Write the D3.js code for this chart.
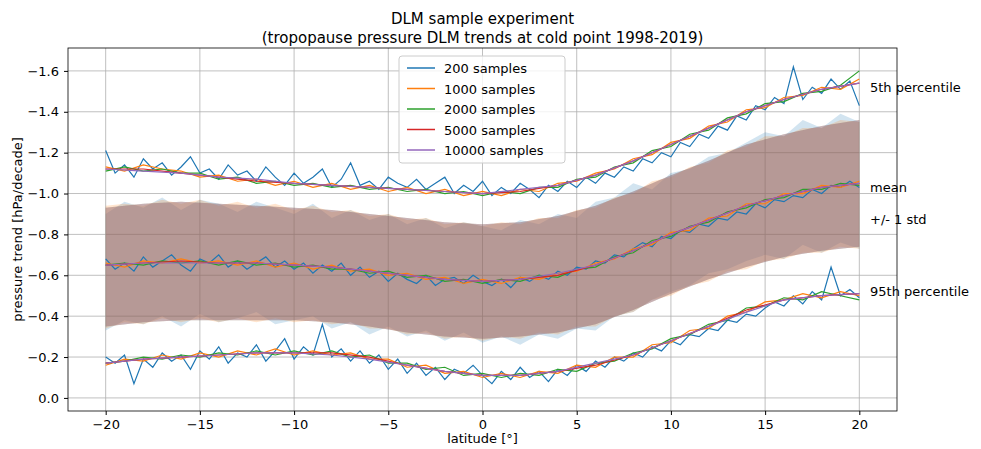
<!DOCTYPE html>
<html><head><meta charset="utf-8">
<script src="https://cdn.jsdelivr.net/npm/d3@7"></script>
<style>body{margin:0;background:#fff}text{font-family:"DejaVu Sans",sans-serif}</style>
</head><body><svg id="chart" width="981" height="449"></svg>
<script>
// values, latitude spread evenly from -20 to 20
var s200p5 = [-1.21,-1.10,-1.14,-1.08,-1.17,-1.12,-1.15,-1.09,-1.13,-1.18,-1.10,-1.12,-1.07,-1.14,-1.09,-1.11,-1.06,-1.13,-1.08,-1.04,-1.10,-1.05,-1.08,-1.12,-1.03,-1.07,-1.15,-1.04,-1.06,-1.02,-1.08,-1.05,-1.03,-1.07,-1.02,-1.05,-1.08,-1.00,-1.04,-1.01,-1.06,-0.99,-1.03,-1.00,-1.05,-1.02,-0.98,-1.04,-1.01,-1.06,-1.03,-1.08,-1.05,-1.10,-1.08,-1.13,-1.11,-1.17,-1.15,-1.20,-1.18,-1.25,-1.23,-1.29,-1.27,-1.33,-1.31,-1.38,-1.36,-1.43,-1.41,-1.47,-1.44,-1.62,-1.46,-1.52,-1.49,-1.56,-1.51,-1.55,-1.43];
var s200mean = [-0.68,-0.63,-0.66,-0.62,-0.69,-0.64,-0.67,-0.70,-0.65,-0.62,-0.68,-0.66,-0.70,-0.64,-0.67,-0.63,-0.66,-0.69,-0.64,-0.67,-0.63,-0.66,-0.61,-0.65,-0.62,-0.66,-0.60,-0.64,-0.59,-0.62,-0.57,-0.61,-0.58,-0.56,-0.60,-0.55,-0.58,-0.59,-0.56,-0.60,-0.57,-0.55,-0.58,-0.54,-0.59,-0.57,-0.60,-0.58,-0.62,-0.60,-0.64,-0.63,-0.67,-0.66,-0.70,-0.69,-0.73,-0.76,-0.74,-0.79,-0.78,-0.82,-0.81,-0.85,-0.84,-0.88,-0.87,-0.91,-0.90,-0.95,-0.93,-0.97,-0.96,-0.99,-0.98,-1.02,-1.00,-1.04,-1.03,-1.06,-1.03];
var s200p95 = [-0.20,-0.17,-0.21,-0.07,-0.19,-0.15,-0.22,-0.18,-0.21,-0.14,-0.23,-0.19,-0.25,-0.17,-0.22,-0.20,-0.26,-0.18,-0.23,-0.29,-0.19,-0.25,-0.21,-0.36,-0.20,-0.24,-0.18,-0.23,-0.17,-0.21,-0.14,-0.19,-0.12,-0.17,-0.11,-0.15,-0.09,-0.14,-0.12,-0.16,-0.11,-0.07,-0.13,-0.09,-0.15,-0.10,-0.13,-0.08,-0.14,-0.11,-0.16,-0.13,-0.18,-0.15,-0.20,-0.18,-0.22,-0.20,-0.25,-0.23,-0.28,-0.26,-0.31,-0.30,-0.34,-0.33,-0.38,-0.37,-0.41,-0.40,-0.44,-0.47,-0.45,-0.50,-0.46,-0.52,-0.48,-0.64,-0.50,-0.53,-0.49];
var s200hi = [-0.90,-0.96,-0.93,-0.98,-0.92,-0.97,-0.95,-0.91,-0.96,-0.93,-0.90,-0.95,-0.88,-0.92,-0.87,-0.90,-0.85,-0.88,-0.83,-0.86,-0.84,-0.82,-0.87,-0.85,-0.90,-0.88,-0.96,-0.98,-1.05,-1.02,-1.10,-1.12,-1.18,-1.20,-1.25,-1.30,-1.28,-1.36,-1.32,-1.39,-1.35];
var s200lo = [-0.33,-0.38,-0.36,-0.40,-0.35,-0.41,-0.37,-0.39,-0.42,-0.36,-0.38,-0.40,-0.34,-0.37,-0.31,-0.35,-0.30,-0.33,-0.28,-0.32,-0.27,-0.30,-0.26,-0.31,-0.29,-0.34,-0.33,-0.40,-0.42,-0.48,-0.52,-0.55,-0.61,-0.63,-0.67,-0.70,-0.68,-0.75,-0.71,-0.76,-0.73];

var s1000p5 = [-1.13,-1.11,-1.14,-1.12,-1.11,-1.08,-1.09,-1.06,-1.07,-1.04,-1.06,-1.03,-1.05,-1.02,-1.04,-1.01,-1.03,-1.00,-1.02,-0.99,-1.01,-0.99,-1.02,-1.01,-1.05,-1.06,-1.10,-1.12,-1.17,-1.19,-1.25,-1.27,-1.33,-1.35,-1.41,-1.42,-1.47,-1.48,-1.52,-1.51,-1.56];
var s1000mean = [-0.66,-0.64,-0.67,-0.66,-0.68,-0.66,-0.67,-0.65,-0.67,-0.64,-0.66,-0.63,-0.65,-0.62,-0.63,-0.60,-0.61,-0.58,-0.59,-0.56,-0.58,-0.56,-0.59,-0.58,-0.61,-0.62,-0.66,-0.68,-0.73,-0.75,-0.81,-0.82,-0.88,-0.89,-0.95,-0.95,-1.00,-1.00,-1.04,-1.03,-1.06];
var s1000p95 = [-0.16,-0.19,-0.18,-0.21,-0.19,-0.22,-0.20,-0.23,-0.21,-0.24,-0.21,-0.23,-0.21,-0.22,-0.19,-0.19,-0.15,-0.16,-0.12,-0.13,-0.10,-0.12,-0.10,-0.13,-0.12,-0.16,-0.15,-0.20,-0.20,-0.26,-0.27,-0.33,-0.34,-0.40,-0.42,-0.47,-0.48,-0.51,-0.49,-0.52,-0.50];
var s1000hi = [-0.94,-0.95,-0.94,-0.97,-0.95,-0.97,-0.94,-0.96,-0.93,-0.95,-0.92,-0.94,-0.91,-0.92,-0.89,-0.90,-0.87,-0.88,-0.85,-0.86,-0.84,-0.86,-0.85,-0.88,-0.88,-0.92,-0.93,-0.98,-1.00,-1.06,-1.08,-1.13,-1.15,-1.21,-1.23,-1.28,-1.28,-1.32,-1.32,-1.36,-1.35];
var s1000lo = [-0.34,-0.37,-0.36,-0.39,-0.37,-0.39,-0.37,-0.39,-0.37,-0.39,-0.37,-0.38,-0.36,-0.37,-0.34,-0.34,-0.31,-0.32,-0.29,-0.30,-0.28,-0.30,-0.29,-0.32,-0.31,-0.35,-0.35,-0.40,-0.42,-0.48,-0.50,-0.55,-0.57,-0.62,-0.63,-0.67,-0.68,-0.71,-0.71,-0.74,-0.73];

var s2000p5 = [-1.11,-1.13,-1.11,-1.12,-1.10,-1.10,-1.07,-1.08,-1.05,-1.06,-1.04,-1.05,-1.03,-1.04,-1.02,-1.03,-1.01,-1.02,-1.00,-1.01,-0.99,-1.01,-1.00,-1.03,-1.03,-1.07,-1.08,-1.13,-1.15,-1.21,-1.23,-1.29,-1.31,-1.37,-1.39,-1.44,-1.45,-1.49,-1.50,-1.53,-1.60];
var s2000mean = [-0.65,-0.66,-0.65,-0.67,-0.66,-0.67,-0.65,-0.67,-0.65,-0.66,-0.64,-0.65,-0.63,-0.63,-0.61,-0.62,-0.59,-0.60,-0.57,-0.58,-0.56,-0.58,-0.57,-0.60,-0.59,-0.63,-0.64,-0.69,-0.71,-0.77,-0.79,-0.84,-0.86,-0.91,-0.93,-0.97,-0.98,-1.02,-1.02,-1.05,-1.04];
var s2000p95 = [-0.17,-0.18,-0.20,-0.19,-0.21,-0.20,-0.22,-0.21,-0.23,-0.21,-0.23,-0.21,-0.23,-0.20,-0.21,-0.17,-0.17,-0.14,-0.15,-0.11,-0.12,-0.10,-0.12,-0.11,-0.14,-0.13,-0.17,-0.18,-0.22,-0.24,-0.29,-0.31,-0.36,-0.38,-0.44,-0.45,-0.49,-0.48,-0.52,-0.50,-0.48];

var s5000p5 = [-1.12,-1.12,-1.10,-1.08,-1.06,-1.05,-1.04,-1.03,-1.02,-1.01,-1.00,-1.01,-1.04,-1.09,-1.16,-1.24,-1.32,-1.40,-1.46,-1.51,-1.54];
var s5000mean = [-0.65,-0.66,-0.67,-0.66,-0.66,-0.65,-0.64,-0.62,-0.60,-0.58,-0.57,-0.58,-0.60,-0.65,-0.72,-0.80,-0.87,-0.94,-0.99,-1.03,-1.05];
var s5000p95 = [-0.17,-0.19,-0.20,-0.21,-0.22,-0.22,-0.22,-0.20,-0.16,-0.13,-0.11,-0.11,-0.13,-0.16,-0.21,-0.28,-0.35,-0.43,-0.48,-0.50,-0.51];
var s5000hi = [-0.93,-0.95,-0.96,-0.95,-0.94,-0.93,-0.92,-0.90,-0.88,-0.86,-0.85,-0.86,-0.89,-0.94,-1.01,-1.09,-1.16,-1.24,-1.29,-1.33,-1.36];
var s5000lo = [-0.35,-0.37,-0.38,-0.38,-0.38,-0.38,-0.37,-0.35,-0.32,-0.30,-0.29,-0.30,-0.32,-0.36,-0.43,-0.51,-0.58,-0.64,-0.69,-0.72,-0.74];

var s10000p5 = [-1.12,-1.11,-1.10,-1.08,-1.07,-1.05,-1.04,-1.03,-1.02,-1.01,-1.00,-1.02,-1.04,-1.09,-1.16,-1.24,-1.32,-1.40,-1.46,-1.51,-1.54];
var s10000mean = [-0.65,-0.66,-0.66,-0.66,-0.66,-0.65,-0.64,-0.62,-0.60,-0.58,-0.57,-0.58,-0.61,-0.65,-0.72,-0.80,-0.87,-0.94,-0.99,-1.03,-1.05];
var s10000p95 = [-0.17,-0.19,-0.20,-0.21,-0.22,-0.22,-0.21,-0.19,-0.16,-0.13,-0.11,-0.11,-0.13,-0.17,-0.21,-0.28,-0.35,-0.42,-0.48,-0.50,-0.51];

var seriesNames = ["200 samples","1000 samples","2000 samples","5000 samples","10000 samples"];
var colors = ["#1f77b4","#ff7f0e","#2ca02c","#d62728","#9467bd"];
var xTicks = [-20,-15,-10,-5,0,5,10,15,20];
var yTicks = [0,-0.2,-0.4,-0.6,-0.8,-1.0,-1.2,-1.4,-1.6];
var sideLabels = ["5th percentile","mean","+/- 1 std","95th percentile"];
var sideLabelValues = [-1.52,-1.03,-0.875,-0.525];

(function () {
  var svg = d3.select("#chart");
  var pLeft = 68, pRight = 897, pTop = 48, pBottom = 411;
  var x = d3.scaleLinear().domain([-22,22]).range([pLeft,pRight]);
  var y = d3.scaleLinear().domain([0.064,-1.712]).range([pBottom,pTop]);

  function pts(arr){
    var step = 40/(arr.length-1);
    return arr.map(function(v,i){ return [-20+i*step, v]; });
  }
  var line = d3.line().x(function(d){return x(d[0]);}).y(function(d){return y(d[1]);});
  var area = d3.area().x(function(d){return x(d[0]);})
    .y0(function(d){return y(d[1]);}).y1(function(d){return y(d[2]);});
  function band(hi, lo){
    return pts(hi).map(function(p,i){ return [p[0], p[1], lo[i]]; });
  }

  // grid
  svg.append("g").selectAll("line").data(xTicks).enter().append("line")
    .attr("x1",x).attr("x2",x).attr("y1",pTop).attr("y2",pBottom)
    .attr("stroke","#b0b0b0").attr("stroke-width",0.8);
  svg.append("g").selectAll("line").data(yTicks).enter().append("line")
    .attr("y1",y).attr("y2",y).attr("x1",pLeft).attr("x2",pRight)
    .attr("stroke","#b0b0b0").attr("stroke-width",0.8);

  // std bands
  var bands = [[s200hi,s200lo,0],[s1000hi,s1000lo,1],[s5000hi,s5000lo,2],[s5000hi,s5000lo,3],[s5000hi,s5000lo,4]];
  bands.forEach(function(b){
    svg.append("path").datum(band(b[0],b[1])).attr("d",area)
      .attr("fill",colors[b[2]]).attr("opacity",0.2);
  });

  var lines = [
    [s200p5,s200mean,s200p95],
    [s1000p5,s1000mean,s1000p95],
    [s2000p5,s2000mean,s2000p95],
    [s5000p5,s5000mean,s5000p95],
    [s10000p5,s10000mean,s10000p95]
  ];
  lines.forEach(function(group,k){
    group.forEach(function(arr){
      svg.append("path").datum(pts(arr)).attr("d",line)
        .attr("fill","none").attr("stroke",colors[k]).attr("stroke-width",1.2);
    });
  });

  // frame
  svg.append("rect").attr("x",pLeft).attr("y",pTop).attr("width",pRight-pLeft).attr("height",pBottom-pTop)
    .attr("fill","none").attr("stroke","#000").attr("stroke-width",0.8);

  // axes
  var xa = svg.append("g").attr("transform","translate(0,"+pBottom+")")
    .call(d3.axisBottom(x).tickValues(xTicks).tickSize(4).tickPadding(5).tickFormat(function(d){return d<0?"\u2212"+(-d):d;}));
  var ya = svg.append("g").attr("transform","translate("+pLeft+",0)")
    .call(d3.axisLeft(y).tickValues(yTicks).tickSize(4).tickPadding(5).tickFormat(function(d){var s=Math.abs(d).toFixed(1);return d<0?"\u2212"+s:s;}));
  [xa,ya].forEach(function(a){
    a.select(".domain").remove();
    a.selectAll("text").attr("font-size",13).attr("fill","#000").attr("font-family","DejaVu Sans");
    a.selectAll("line").attr("stroke","#000");
  });

  svg.append("text").attr("x",x(0)).attr("y",443).attr("text-anchor","middle").attr("font-size",13).text("latitude [°]");
  svg.append("text").attr("transform","translate(22,"+((pTop+pBottom)/2)+") rotate(-90)").attr("text-anchor","middle").attr("font-size",13).text("pressure trend [hPa/decade]");
  svg.append("text").attr("x",x(0)).attr("y",24).attr("text-anchor","middle").attr("font-size",15).text("DLM sample experiment");
  svg.append("text").attr("x",x(0)).attr("y",43).attr("text-anchor","middle").attr("font-size",15).text("(tropopause pressure DLM trends at cold point 1998-2019)");

  sideLabels.forEach(function(l,i){
    svg.append("text").attr("x",870).attr("y",y(sideLabelValues[i])+5).attr("font-size",13).text(l);
  });

  // legend
  var lg = svg.append("g").attr("transform","translate(399,56)");
  lg.append("rect").attr("width",166).attr("height",107).attr("rx",3).attr("fill","#fff").attr("fill-opacity",0.8).attr("stroke","#ccc");
  seriesNames.forEach(function(n,i){
    var yy = 12+i*20.5;
    lg.append("line").attr("x1",8).attr("x2",36).attr("y1",yy).attr("y2",yy).attr("stroke",colors[i]).attr("stroke-width",1.5);
    lg.append("text").attr("x",45).attr("y",yy+5).attr("font-size",13).text(n);
  });
})();
</script></body></html>
